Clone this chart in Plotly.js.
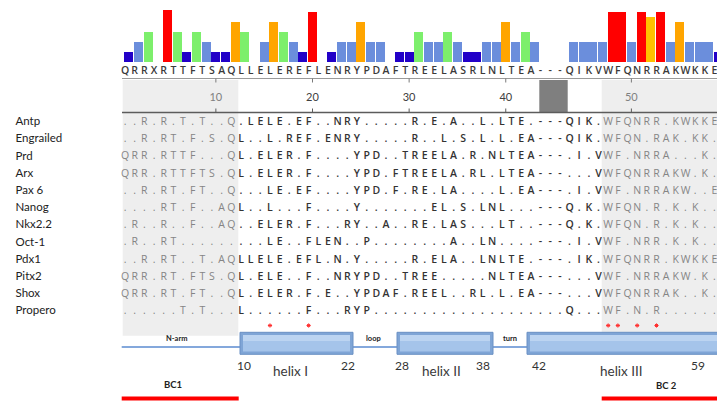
<!DOCTYPE html>
<html><head><meta charset="utf-8">
<script src="https://cdn.plot.ly/plotly-3.0.1.min.js"></script>
<style>html,body{margin:0;padding:0;background:#fff}#chart{width:717px;height:401px}</style>
</head><body><div id="chart"></div>
<script>
// ---------- DATA ----------
const consensus = "QRRXRTTFTSAQLLELEREFLENRYPDAFTREELASRLNLTEA---QIKVWFQNRRAKWKKE".split("");
const conservation = [1,2,3,0,5.2,3,1,3,2,1,1,4,3,0,2,4,3,2,1,5,0,1,2,2,4,2,2,0,1,1,3,2,2,3,2,1,1,2,2,4,2,3,2,0,0,0,2,2,2,2,5,5,2,5,4.5,5,2,4,2,2,2,1];
const species = ["Antp","Engrailed","Prd","Arx","Pax 6","Nanog","Nkx2.2","Oct-1","Pdx1","Pitx2","Shox","Propero"];
const alignments = [
  "..R.R.T.T.." + "Q.LELE.EF..NR" + "Y.....R.E.A..L.LTE." + "---" + "QIK.WFQNRR.KWKKE",
  "..R.RT.F.S." + "QL..L.REF.ENR" + "Y.....R..L.S.L.L.EA" + "---" + "QIK.WFQN.RAK.KK.",
  "QRR.RTTF..." + "QL.ELER.F...." + "YPD..TREELA.R.NLTEA" + "---" + ".I.VWF.NRRA...K.",
  "QRR.RTTFTS." + "QL.ELER.F...." + "YPD.FTREELA.RL.LTEA" + "---" + "...VWFQNRRAKW.K.",
  "..R.RT.FT.." + "Q...LE.EF...." + "YPD.F.RE.LA....L.EA" + "---" + ".I.VWF.NRRAKW..E",
  "....RT.F..A" + "QL..L...F...." + "Y.......EL.S.LNL..." + "---" + "Q.K.WFQN.R.K.K..",
  ".R..R..F..A" + "Q..ELER.F...R" + "Y..A..RE.LAS...LT.." + "---" + "Q.K.WFQN.R.K.K..",
  ".R..RT....." + "....LE..FLEN." + ".P........A..LN...." + "---" + ".I.VWF.NRR.K.K..",
  "..R.RT..T.A" + "QLLELE.EFL.N." + "Y.....R.ELA..LNLTE." + "---" + ".IK.WFQNRR.KWKKE",
  "QRR.RT.FTS." + "QL.ELE..F..NR" + "YPD..TREE.....NLTEA" + "---" + "...VWF.NRRAKW.K.",
  "QRR.RT.FT.." + "QL.ELER.F.E.." + "YPDAF.REEL..RL.L.EA" + "---" + "...VWFQNRRAK..K.",
  "......T.T.." + ".L......F...R" + "YP................." + "..." + "Q...WF.N.R......"
];
const rulerPositions = [10,20,30,40,50];
const conservedPositions = [16,20,48,49,51,53];
const regionLabels = ["N-arm","loop","turn"];
const helixNames = ["helix I","helix II","helix III"];
const helixBounds = [[10,22],[28,38],[42,59]];
const bindingLabels = ["BC1","BC 2"];

// ---------- GEOMETRY (pixel -> axis units) ----------
const X0 = 128.9, DX = 9.663, Y0 = 122.3, DY = 17.2;
const cx = p => (p - X0) / DX;
const cy = p => (p - Y0) / DY;
const TXT = -0.4;
const posToCol = p => p - 1 + (p >= 44 ? 3 : 0);
const isShaded = c => c <= 11 || c >= 50;

const barColor = h => h >= 4.9 ? '#FF0000' : h >= 4.4 ? '#FFC000' : h >= 3.9 ? '#FFA500' : h >= 2.9 ? '#7DEF6C' : h >= 1.9 ? '#6B8EDC' : '#2200C8';

const FONT = 'Open Sans, Lato, sans-serif';
const traces = [];
const cols = consensus.map((_, i) => i);

traces.push({type:'bar', x: cols, y: conservation, width: 0.93,
  marker:{color: conservation.map(barColor), line:{width:0}},
  xaxis:'x', yaxis:'y', hoverinfo:'skip'});

traces.push({type:'scatter', mode:'text', x: cols.map(c => c + TXT), y: cols.map(() => cy(71.6)),
  text: consensus, textfont:{family:FONT, size:10.5, color:'#3a3a3a', weight:600},
  xaxis:'x', yaxis:'y2', hoverinfo:'skip'});

// alignment rows
const gx=[], gy=[], gt=[], dx_=[], dy_=[], dt=[];
alignments.forEach((row, r) => {
  row.split("").forEach((ch, c) => {
    if (isShaded(c)) { gx.push(c + TXT); gy.push(r); gt.push(ch); }
    else { dx_.push(c + TXT); dy_.push(r); dt.push(ch); }
  });
});
traces.push({type:'scatter', mode:'text', x: gx, y: gy, text: gt,
  textfont:{family:FONT, size:10.5, color:'#858585'}, xaxis:'x', yaxis:'y2', hoverinfo:'skip'});
traces.push({type:'scatter', mode:'text', x: dx_, y: dy_, text: dt,
  textfont:{family:FONT, size:10.5, color:'#333333', weight:600}, xaxis:'x', yaxis:'y2', hoverinfo:'skip'});

// species names
traces.push({type:'scatter', mode:'text', x: species.map(() => cx(15.5)), y: species.map((_, i) => i),
  text: species, textposition:'middle right', textfont:{family:'Lato, sans-serif', size:11.5, color:'#222'},
  xaxis:'x', yaxis:'y2', hoverinfo:'skip'});

// ruler numbers
const rulerCols = rulerPositions.map(posToCol);
traces.push({type:'scatter', mode:'text', x: rulerCols, y: rulerCols.map(() => cy(98.5)),
  text: rulerPositions.map(String),
  textfont:{family:'Lato, sans-serif', size:11, color: rulerCols.map(c => isShaded(c) ? '#808080' : '#404040')},
  xaxis:'x', yaxis:'y2', hoverinfo:'skip'});

// conserved asterisks
const consCols = conservedPositions.map(posToCol);
traces.push({type:'scatter', mode:'markers', x: consCols.map(c => c + TXT), y: consCols.map(() => cy(325.5)),
  marker:{symbol:'asterisk-open', size:3.5, color:'#FF3030', line:{color:'#FF3030', width:1}},
  xaxis:'x', yaxis:'y2', hoverinfo:'skip'});

// ---------- SHAPES ----------
const shapes = [];
const rect = (x0,x1,y0,y1,fill,extra) => Object.assign({type:'rect', xref:'x', yref:'y2',
  x0:cx(x0), x1:cx(x1), y0:cy(y0), y1:cy(y1), fillcolor:fill, line:{width:0}, layer:'below'}, extra||{});
const line = (x0,x1,y0,y1,color,w) => ({type:'line', xref:'x', yref:'y2', x0:cx(x0), x1:cx(x1), y0:cy(y0), y1:cy(y1), line:{color:color, width:w}});

shapes.push(rect(122.7, 238.3, 80, 335.7, '#EEEEEE'));
shapes.push(rect(601.7, 725, 80, 333.5, '#EEEEEE'));
shapes.push(rect(539.3, 567.7, 80, 112.7, '#7F7F7F'));
shapes.push(line(122, 725, 78.5, 78.5, '#9a9a9a', 1));
shapes.push(line(122, 725, 112.5, 112.5, '#5c5c5c', 1.6));
rulerCols.forEach(c => {
  shapes.push({type:'line', xref:'x', yref:'y2', x0:c, x1:c, y0:cy(78.5), y1:cy(82.5), line:{color:'#7a7a7a', width:1}});
  shapes.push({type:'line', xref:'x', yref:'y2', x0:c, x1:c, y0:cy(108.5), y1:cy(112.5), line:{color:'#5c5c5c', width:1}});
});
// schematic line
shapes.push(line(121.7, 530, 347, 347, '#5B8BD0', 1.5));
// helix boxes
const helixPx = [[240,353],[397,493],[527,730]];
helixPx.forEach(([a,b]) => {
  shapes.push({type:'rect', xref:'x', yref:'y2', x0:cx(a), x1:cx(b), y0:cy(332.3), y1:cy(354.3), fillcolor:'#7FA5D6', line:{color:'#6A90C4', width:1}});
  shapes.push({type:'rect', xref:'x', yref:'y2', x0:cx(a+3), x1:cx(b-3), y0:cy(335), y1:cy(351.5), fillcolor:'#A5C4EA', line:{width:0}});
  shapes.push({type:'rect', xref:'x', yref:'y2', x0:cx(a+3), x1:cx(b-3), y0:cy(335), y1:cy(341), fillcolor:'#BCD4F1', line:{width:0}});
});
// binding red lines
shapes.push(line(121.7, 238.7, 398.5, 398.5, '#FF0000', 4));
shapes.push(line(601.7, 725, 398.5, 398.5, '#FF0000', 4));

// ---------- ANNOTATIONS ----------
const annotations = [];
const ann = (text, px, py, size, bold, color) => annotations.push({text: bold ? '<b>'+text+'</b>' : text,
  xref:'x', yref:'y2', x:cx(px), y:cy(py), showarrow:false, xanchor:'center', yanchor:'middle',
  font:{family:'Lato, sans-serif', size:size, color:color||'#222'}});
[[176.7,338.3],[373.3,338.3],[510,338.3]].forEach((p,i) => ann(regionLabels[i], p[0], p[1], 7.5, true, '#222'));
const boundPx = [[244,348.3],[401.7,483],[539,698]];
helixBounds.forEach((b,i) => { ann(String(b[0]), boundPx[i][0], 365, 12, false, '#333'); ann(String(b[1]), boundPx[i][1], 365, 12, false, '#333'); });
[[290.8,370.5],[441,370.5],[621.3,370.5]].forEach((p,i) => ann(helixNames[i], p[0], p[1], 13.5, false, '#3a3a3a'));
ann(bindingLabels[0], 173.3, 384.7, 9.5, true, '#222');
ann(bindingLabels[1], 666.7, 385, 9.5, true, '#222');

const layout = {
  width:717, height:401, margin:{l:0,r:0,t:0,b:0},
  paper_bgcolor:'#ffffff', plot_bgcolor:'rgba(0,0,0,0)', showlegend:false,
  xaxis:{range:[cx(0), cx(717)], visible:false, fixedrange:true},
  yaxis:{domain:[1-62/401, 1], range:[0, 6.2], visible:false, fixedrange:true, anchor:'x'},
  yaxis2:{domain:[0, 1-62/401], range:[cy(401), cy(62)], visible:false, fixedrange:true, anchor:'x'},
  shapes: shapes, annotations: annotations, bargap:0
};
Plotly.newPlot('chart', traces, layout, {staticPlot:true, displayModeBar:false});
</script></body></html>
